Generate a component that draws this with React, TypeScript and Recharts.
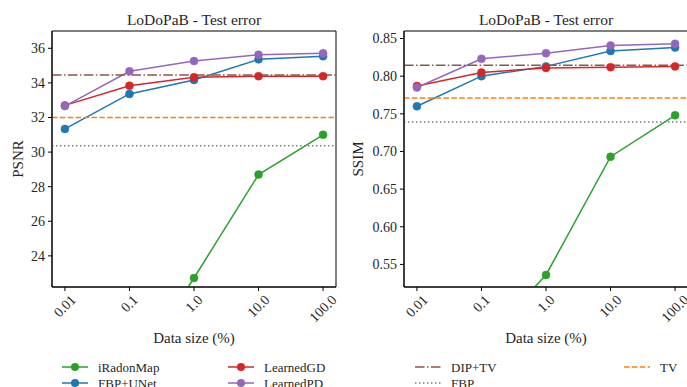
import React from 'react';
import { LineChart, Line, XAxis, YAxis, ReferenceLine, ReferenceArea } from 'recharts';

const sizes = [0.01, 0.1, 1, 10, 100];
const sizeLabels = ['0.01', '0.1', '1.0', '10.0', '100.0'];

// PSNR (left panel)
const psnrIRadonMap = [14.0, 16.9, 22.72, 28.7, 31.0];
const psnrFbpUnet = [31.34, 33.36, 34.17, 35.36, 35.54];
const psnrLearnedGD = [32.7, 33.84, 34.33, 34.39, 34.39];
const psnrLearnedPD = [32.66, 34.67, 35.26, 35.63, 35.71];
const psnrBaselines = { dipTv: 34.46, tv: 32.0, fbp: 30.37 };
const psnrTicks = [24, 26, 28, 30, 32, 34, 36];

// SSIM (right panel)
const ssimIRadonMap = [0.4, 0.445, 0.536, 0.693, 0.748];
const ssimFbpUnet = [0.76, 0.8, 0.813, 0.8335, 0.838];
const ssimLearnedGD = [0.787, 0.805, 0.811, 0.812, 0.813];
const ssimLearnedPD = [0.785, 0.823, 0.8306, 0.8407, 0.843];
const ssimBaselines = { dipTv: 0.8146, tv: 0.771, fbp: 0.739 };
const ssimTicks = [0.55, 0.6, 0.65, 0.7, 0.75, 0.8, 0.85];

const C = {
  green: '#2ca02c',
  blue: '#1f77b4',
  red: '#d62728',
  purple: '#9467bd',
  brown: '#8c564b',
  orange: '#ff7f0e',
  gray: '#7f7f7f',
};
const FONT = '"Liberation Serif", serif';
const INK = '#262626';
const X_DOMAIN = [0.01 / 1.585, 100 * 1.585];

const buildRows = (a: number[], b: number[], c: number[], d: number[]) =>
  sizes.map((s, i) => ({ size: s, iradon: a[i], fbpunet: b[i], gd: c[i], pd: d[i] }));

const psnrRows = buildRows(psnrIRadonMap, psnrFbpUnet, psnrLearnedGD, psnrLearnedPD);
const ssimRows = buildRows(ssimIRadonMap, ssimFbpUnet, ssimLearnedGD, ssimLearnedPD);

const series = [
  { key: 'iradon', name: 'iRadonMap', color: C.green },
  { key: 'fbpunet', name: 'FBP+UNet', color: C.blue },
  { key: 'gd', name: 'LearnedGD', color: C.red },
  { key: 'pd', name: 'LearnedPD', color: C.purple },
];

const RotatedTick = (props: any) => {
  const { x, y, payload } = props;
  const idx = sizes.indexOf(payload.value);
  const label = idx >= 0 ? sizeLabels[idx] : String(payload.value);
  const w = label.replace(/\./g, '').length * 7 + 3.5;
  const half = (w + 10) * 0.3536;
  const cy = y + 1 + half;
  return (
    <text x={x} y={cy} textAnchor="middle" dominantBaseline="central" fontSize={14}
      fontFamily={FONT} fill={INK} transform={`rotate(-45 ${x} ${cy})`}>
      {label}
    </text>
  );
};

type PanelProps = {
  rows: any[];
  yLabel: string;
  yDomain: number[];
  yTicks: number[];
  fmt: (v: number) => string;
  base: { dipTv: number; tv: number; fbp: number };
  yAxisWidth: number;
  labelOffset: number;
  marginRight: number;
};

const Panel = ({ rows, yLabel, yDomain, yTicks, fmt, base, yAxisWidth, labelOffset, marginRight }: PanelProps) => (
  <LineChart width={345} height={387} data={rows}
    margin={{ top: 31, right: marginRight, left: 0, bottom: 43 }}
    style={{ fontFamily: FONT }}>
    <XAxis dataKey="size" type="number" scale="log" domain={X_DOMAIN} allowDataOverflow
      ticks={sizes} tick={<RotatedTick />} tickSize={4} tickMargin={2} height={57}
      stroke="#000" interval={0}
      label={{ value: 'Data size (%)', position: 'insideBottom', offset: 1, fontSize: 15, fill: INK, fontFamily: FONT }} />
    <YAxis domain={yDomain} allowDataOverflow ticks={yTicks} tickFormatter={fmt} width={yAxisWidth}
      tickSize={4} tickMargin={3} stroke="#000" tick={{ fontSize: 14, fill: INK, fontFamily: FONT }}
      label={{ value: yLabel, angle: -90, position: 'insideLeft', offset: labelOffset, fontSize: 15, fill: INK, fontFamily: FONT, style: { textAnchor: 'middle' } }} />
    {series.map((s) => (
      <Line key={s.key} dataKey={s.key} name={s.name} stroke={s.color} strokeWidth={1.5}
        dot={{ r: 4, fill: s.color, stroke: s.color, strokeWidth: 0.5 }} isAnimationActive={false} />
    ))}
    <ReferenceLine y={base.dipTv} stroke={C.brown} strokeWidth={1.5} strokeDasharray="9.6 2.4 1.5 2.4" />
    <ReferenceLine y={base.tv} stroke={C.orange} strokeWidth={1.5} strokeDasharray="5.5 2.4" />
    <ReferenceLine y={base.fbp} stroke={C.gray} strokeWidth={1.5} strokeDasharray="1.5 2.5" />
    <ReferenceArea x1={X_DOMAIN[0]} x2={X_DOMAIN[1]} y1={yDomain[0]} y2={yDomain[1]}
      fill="none" fillOpacity={0} stroke="#000" strokeWidth={1}
      label={{ value: 'LoDoPaB - Test error', position: 'top', offset: 6, fontSize: 15.5, fill: INK, fontFamily: FONT }} />
  </LineChart>
);

type LegendItem = { name: string; color: string; dash?: string; marker?: boolean; x: number; y: number };

const leftLegend: LegendItem[] = [
  { name: 'iRadonMap', color: C.green, marker: true, x: 62, y: 367 },
  { name: 'FBP+UNet', color: C.blue, marker: true, x: 62, y: 383 },
  { name: 'LearnedGD', color: C.red, marker: true, x: 228, y: 367 },
  { name: 'LearnedPD', color: C.purple, marker: true, x: 228, y: 383 },
];
const rightLegend: LegendItem[] = [
  { name: 'DIP+TV', color: C.brown, dash: '9.6 2.4 1.5 2.4', x: 415, y: 367 },
  { name: 'FBP', color: C.gray, dash: '1.5 2.5', x: 415, y: 383 },
  { name: 'TV', color: C.orange, dash: '5.5 2.4', x: 624, y: 367 },
];

const LegendLayer = ({ items }: { items: LegendItem[] }) => (
  <g>
    {items.map((it) => (
      <g key={it.name}>
        <line x1={it.x} y1={it.y} x2={it.x + 26} y2={it.y} stroke={it.color} strokeWidth={1.5}
          strokeDasharray={it.dash} />
        {it.marker && <circle cx={it.x + 13} cy={it.y} r={4} fill={it.color} />}
        <text x={it.x + 36} y={it.y} dominantBaseline="central" fontSize={13} fontFamily={FONT} fill={INK}>
          {it.name}
        </text>
      </g>
    ))}
  </g>
);

export default function App() {
  return (
    <div style={{ position: 'absolute', left: 0, top: 0, width: 687, height: 387, overflow: 'hidden', background: '#fff' }}>
      <div style={{ position: 'absolute', left: 0, top: 0 }}>
        <Panel rows={psnrRows} yLabel="PSNR" yDomain={[22.2, 37.0]} yTicks={psnrTicks}
          fmt={(v) => String(v)} base={psnrBaselines} yAxisWidth={52} labelOffset={18} marginRight={9} />
      </div>
      <div style={{ position: 'absolute', left: 345, top: 0 }}>
        <Panel rows={ssimRows} yLabel="SSIM" yDomain={[0.52, 0.86]} yTicks={ssimTicks}
          fmt={(v) => v.toFixed(2)} base={ssimBaselines} yAxisWidth={59} labelOffset={13} marginRight={2} />
      </div>
      <svg width={687} height={387} style={{ position: 'absolute', left: 0, top: 0, pointerEvents: 'none' }}>
        <LegendLayer items={leftLegend} />
        <LegendLayer items={rightLegend} />
      </svg>
    </div>
  );
}
